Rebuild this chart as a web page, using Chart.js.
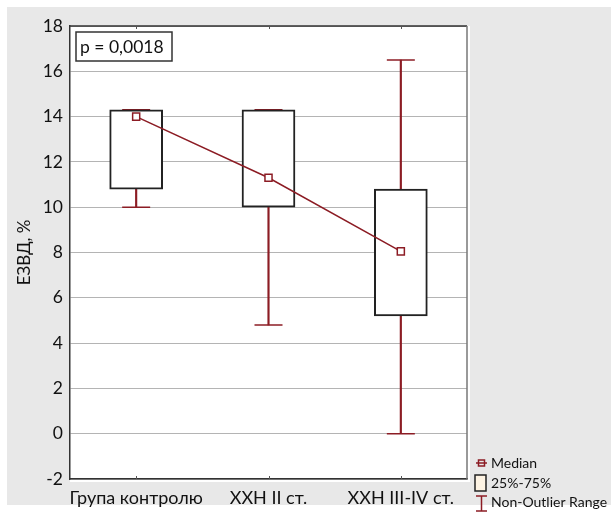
<!DOCTYPE html>
<html>
<head>
<meta charset="utf-8">
<script src="https://cdn.jsdelivr.net/npm/chart.js@4/dist/chart.umd.min.js"></script>
<style>
  html, body { margin: 0; padding: 0; background: #fff; }
  #wrap { width: 611px; height: 513px; position: relative; }
</style>
</head>
<body>
<div id="wrap"><canvas id="boxChart"></canvas></div>
<script>
const categories = ['Група контролю', 'ХХН II ст.', 'ХХН III-IV ст.'];
const medians = [14.0, 11.3, 8.05];
const q1 = [10.8, 10.0, 5.2];
const q3 = [14.3, 14.3, 10.8];
const mins = [10.0, 4.8, 0.0];
const maxs = [14.3, 14.3, 16.5];
const yTickMin = -2;
const yTickMax = 18;
const yTickStep = 2;
const pValueText = 'p = 0,0018';
const legendLabels = ['Median', '25%-75%', 'Non-Outlier Range'];

const RED = '#8c1c24';
const FONT = 'Lato, "Open Sans", sans-serif';

const frame = {
    id: 'frame',
    beforeDraw(chart) {
        const ctx = chart.ctx;
        const a = chart.chartArea;
        ctx.save();
        ctx.fillStyle = '#ffffff';
        ctx.fillRect(0, 0, chart.width, chart.height);
        ctx.fillStyle = '#e8e8e8';
        ctx.fillRect(7, 7, chart.width - 7, 498);
        ctx.fillStyle = '#ffffff';
        ctx.fillRect(a.left, a.top, a.right - a.left + 3, a.bottom - a.top + 3);
        ctx.restore();
    },
    beforeDatasetsDraw(chart) {
        const ctx = chart.ctx;
        const a = chart.chartArea;
        const x = chart.scales.x;
        ctx.save();
        ctx.lineWidth = 1.5;
        ctx.strokeStyle = '#333';
        ctx.beginPath();
        ctx.moveTo(a.left, a.top);
        ctx.lineTo(a.right, a.top);
        ctx.stroke();
        ctx.strokeStyle = '#777';
        ctx.beginPath();
        ctx.moveTo(a.right, a.top);
        ctx.lineTo(a.right, a.bottom);
        ctx.stroke();
        // small category ticks at top and bottom
        ctx.strokeStyle = '#555';
        ctx.lineWidth = 1;
        categories.forEach((c, i) => {
            const px = Math.round(x.getPixelForValue(i)) + 0.5;
            ctx.beginPath();
            ctx.moveTo(px, a.top);
            ctx.lineTo(px, a.top + 3);
            ctx.moveTo(px, a.bottom);
            ctx.lineTo(px, a.bottom - 3);
            ctx.stroke();
        });
        ctx.restore();
    },
    afterDraw(chart) {
        const ctx = chart.ctx;
        ctx.save();
        // p-value box
        ctx.fillStyle = '#fff';
        ctx.fillRect(76, 32, 96, 29);
        ctx.strokeStyle = '#333';
        ctx.lineWidth = 1.5;
        ctx.strokeRect(76, 32, 96, 29);
        ctx.fillStyle = '#111';
        ctx.font = '17.5px ' + FONT;
        ctx.textBaseline = 'middle';
        ctx.fillText(pValueText, 80, 47);

        // legend
        ctx.font = '14px ' + FONT;
        ctx.fillStyle = '#111';
        const lx = 476, tx = 491;
        const rows = [463, 483, 502];
        // median icon
        ctx.strokeStyle = RED;
        ctx.lineWidth = 1.5;
        ctx.beginPath();
        ctx.moveTo(lx, rows[0]);
        ctx.lineTo(lx + 11, rows[0]);
        ctx.stroke();
        ctx.strokeRect(lx + 2.5, rows[0] - 3, 6, 6);
        // box icon
        ctx.fillStyle = '#fdf3e3';
        ctx.fillRect(lx - 1, rows[1] - 8, 11, 16);
        ctx.strokeStyle = '#222';
        ctx.strokeRect(lx - 1, rows[1] - 8, 11, 16);
        // whisker icon
        ctx.strokeStyle = RED;
        ctx.beginPath();
        ctx.moveTo(lx, rows[2] - 6);
        ctx.lineTo(lx + 11, rows[2] - 6);
        ctx.moveTo(lx + 5.5, rows[2] - 6);
        ctx.lineTo(lx + 5.5, rows[2] + 9);
        ctx.moveTo(lx, rows[2] + 9);
        ctx.lineTo(lx + 11, rows[2] + 9);
        ctx.stroke();
        ctx.fillStyle = '#111';
        legendLabels.forEach((t, i) => ctx.fillText(t, tx, rows[i]));
        ctx.restore();
    }
};

new Chart(document.getElementById('boxChart').getContext('2d'), {
    type: 'bar',
    data: {
        labels: categories,
        datasets: [
            {
                type: 'line',
                label: 'Median',
                data: medians,
                borderColor: RED,
                borderWidth: 1.5,
                pointStyle: 'rect',
                pointRadius: 5,
                pointBorderWidth: 1.5,
                pointBackgroundColor: '#fff',
                pointBorderColor: RED,
                order: 0
            },
            {
                label: '25%-75%',
                data: q1.map((v, i) => [v, q3[i]]),
                backgroundColor: '#fff',
                borderColor: '#222',
                borderWidth: 2,
                borderSkipped: false,
                barThickness: 53,
                grouped: false,
                order: 1
            },
            {
                type: 'line',
                label: 'min',
                data: mins,
                showLine: false,
                pointStyle: 'line',
                pointRadius: 14,
                pointBorderWidth: 1.5,
                pointBorderColor: RED,
                order: 2
            },
            {
                type: 'line',
                label: 'max',
                data: maxs,
                showLine: false,
                pointStyle: 'line',
                pointRadius: 14,
                pointBorderWidth: 1.5,
                pointBorderColor: RED,
                order: 2
            },
            {
                label: 'Non-Outlier Range',
                data: mins.map((v, i) => [v, maxs[i]]),
                backgroundColor: RED,
                borderWidth: 0,
                barThickness: 1.5,
                grouped: false,
                order: 3
            }
        ]
    },
    options: {
        responsive: true,
        maintainAspectRatio: false,
        animation: false,
        layout: {
            padding: { left: 7, top: 26, right: 144, bottom: 0 }
        },
        plugins: {
            legend: { display: false },
            tooltip: { enabled: false }
        },
        scales: {
            x: {
                offset: true,
                grid: { display: false, drawTicks: false },
                border: { display: true, color: '#333', width: 1.5 },
                ticks: {
                    color: '#111',
                    padding: 8,
                    maxRotation: 0,
                    minRotation: 0,
                    autoSkip: false,
                    font: { family: FONT, size: 18 }
                },
                afterFit(scale) { scale.height = 34; }
            },
            y: {
                min: yTickMin,
                max: yTickMax,
                grid: { color: '#b4b4b4', lineWidth: 1, drawTicks: false },
                border: { display: true, color: '#333', width: 1.5 },
                ticks: {
                    stepSize: yTickStep,
                    color: '#111',
                    padding: 7,
                    font: { family: FONT, size: 17.5 }
                },
                title: {
                    display: true,
                    text: 'ЕЗВД, %',
                    color: '#111',
                    font: { family: FONT, size: 17 },
                    padding: { top: 7, bottom: 0 }
                },
                afterFit(scale) { scale.width = 63; }
            }
        }
    },
    plugins: [frame]
});
</script>
</body>
</html>
